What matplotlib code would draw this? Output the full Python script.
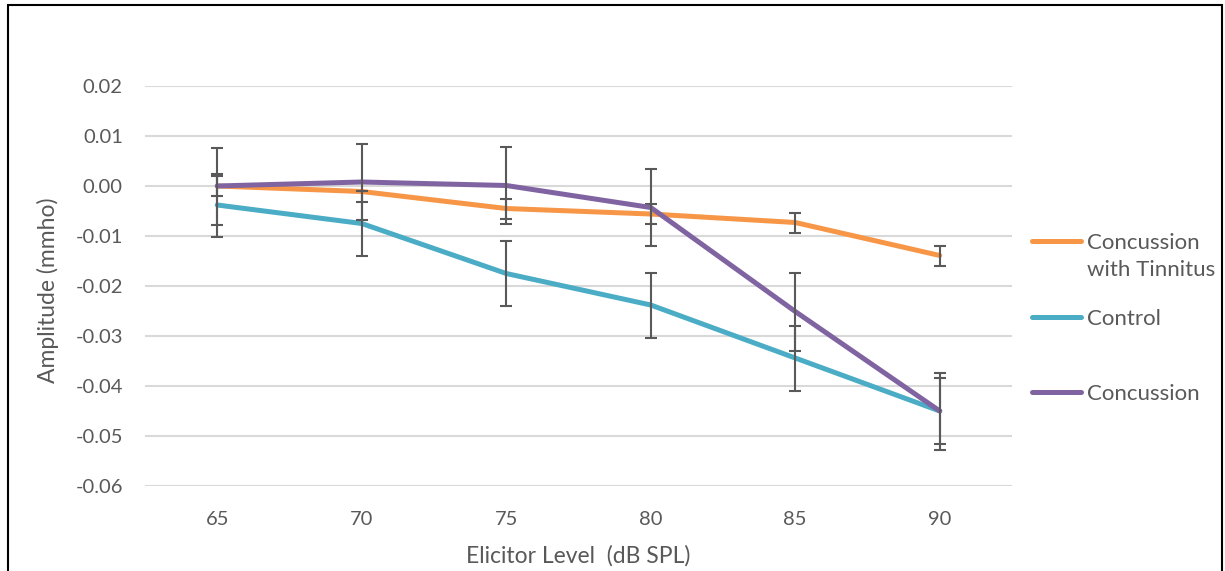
import matplotlib
matplotlib.use("Agg")
import matplotlib.pyplot as plt
from matplotlib.lines import Line2D
from matplotlib.patches import Rectangle
import numpy as np

# elicitor levels (dB SPL) and mean amplitude change per group (mmho)
levels = [65, 70, 75, 80, 85, 90]
tinnitus = [0.0, -0.0011, -0.0045, -0.0056, -0.0073, -0.0139]
tinnitus_err = [0.0020, 0.0020, 0.0020, 0.0020, 0.0020, 0.0020]
control = [-0.0038, -0.0075, -0.0175, -0.0238, -0.0344, -0.0450]
control_err = [0.0063, 0.0065, 0.0065, 0.0065, 0.0065, 0.0066]
concussion = [0.0, 0.0008, 0.0001, -0.0043, -0.0251, -0.0450]
concussion_err = [0.0077, 0.0076, 0.0077, 0.0077, 0.0078, 0.0077]

series = [
    ("Concussion\nwith Tinnitus", tinnitus, tinnitus_err, "#F79646"),
    ("Control", control, control_err, "#4BACC6"),
    ("Concussion", concussion, concussion_err, "#8064A2"),
]

text_color = "#595959"
plt.rcParams["font.family"] = ["Lato", "DejaVu Sans"]

fig = plt.figure(figsize=(12.25, 5.71), dpi=100)
ax = fig.add_axes([145 / 1225, 1 - 486 / 571, 867 / 1225, 400 / 571])

x = np.arange(len(levels))
for i, (label, vals, err, color) in enumerate(series):
    ax.plot(x, vals, color=color, lw=3.6, solid_capstyle="round",
            solid_joinstyle="round", zorder=3 + i)
    ax.errorbar(x, vals, yerr=err, fmt="none", ecolor="#595959",
                elinewidth=1.5, capsize=4.3, capthick=1.5, zorder=3 + i)

ax.set_xlim(-0.5, len(levels) - 0.5)
ax.set_ylim(-0.06, 0.02)
ax.set_yticks(np.arange(-0.06, 0.0201, 0.01))
ax.set_yticklabels([f"{v:.2f}" for v in np.arange(-0.06, 0.0201, 0.01)])
ax.set_xticks(x)
ax.set_xticklabels([str(v) for v in levels])
ax.grid(axis="y", color="#D9D9D9", lw=1.5)
ax.set_axisbelow(True)
for side in ["top", "right", "left", "bottom"]:
    ax.spines[side].set_visible(False)
ax.tick_params(axis="both", length=0, labelsize=14.5, labelcolor=text_color)
ax.tick_params(axis="x", pad=18)
ax.tick_params(axis="y", pad=16)

fig.text(48 / 1225, 1 - 290 / 571, "Amplitude (mmho)", rotation=90,
         ha="center", va="center", fontsize=16.5, color=text_color)
fig.text(578 / 1225, 1 - 556 / 571, "Elicitor Level  (dB SPL)",
         ha="center", va="center", fontsize=16.5, color=text_color)

# legend drawn by hand to the right of the plot
legend_y = [241, 317, 392]
for (label, vals, err, color), ly in zip(series, legend_y):
    fy = 1 - ly / 571
    fig.add_artist(Line2D([1032 / 1225, 1081 / 1225], [fy, fy], color=color,
                          lw=3.6, solid_capstyle="round",
                          transform=fig.transFigure))
    fig.text(1087 / 1225, fy + 8 / 571, label, ha="left", va="top",
             fontsize=16, color=text_color, linespacing=1.45)

# outer frame
fig.add_artist(Rectangle((7.5 / 1225, -0.05), 1214 / 1225, 1.05 - 5 / 571,
                         transform=fig.transFigure, fill=False,
                         edgecolor="black", lw=1.5))

fig.savefig("out.png", dpi=100)
